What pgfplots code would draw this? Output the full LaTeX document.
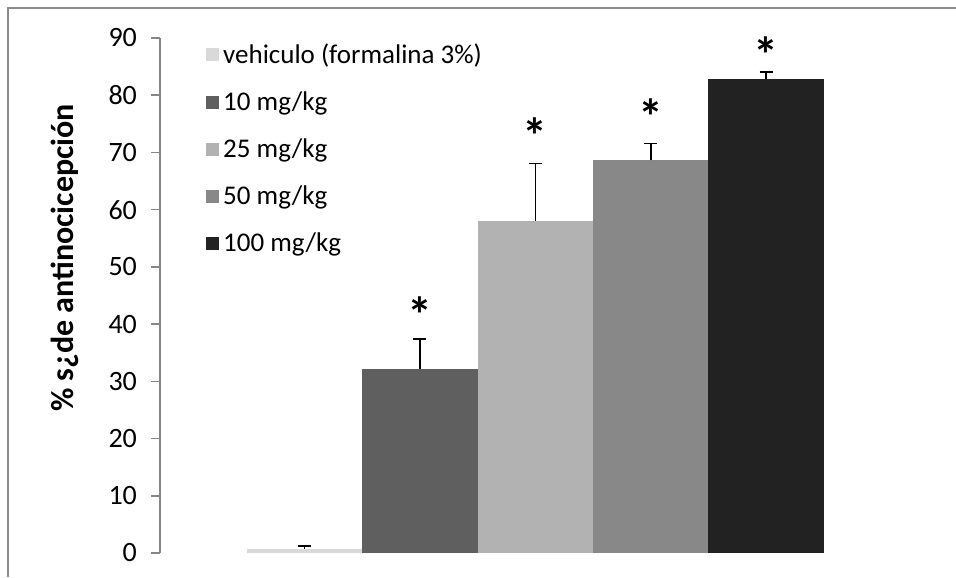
\documentclass[border=0pt]{standalone}
\usepackage{pgfplots}
\pgfplotsset{compat=1.18}
\usepackage{fontspec}
\setmainfont{Carlito}
\definecolor{c0}{HTML}{D9D9D9}
\definecolor{c1}{HTML}{5F5F5F}
\definecolor{c2}{HTML}{B2B2B2}
\definecolor{c3}{HTML}{888888}
\definecolor{c4}{HTML}{222222}
\definecolor{axgray}{HTML}{868686}
\definecolor{framegray}{HTML}{8C8C8C}
\begin{document}
\begin{tikzpicture}
\useasboundingbox (0,0) rectangle (478pt,288.5pt);
\draw[line width=1pt, color=framegray] (4pt,0) -- (4pt,284.5pt) -- (478pt,284.5pt);
\begin{axis}[
  at={(80pt,12pt)}, anchor=south west,
  scale only axis, width=375.5pt, height=257.5pt,
  xmin=-0.252, xmax=6.255, ymin=0, ymax=90,
  axis y line*=left, axis x line=none,
  ytick={0,10,...,90},
  y axis line style={color=axgray, line width=0.75pt, -},
  major tick length=4.5pt, tick align=outside,
  tick style={color=axgray, line width=0.75pt},
  /pgf/number format/assume math mode=true,
  yticklabel style={font=\fontsize{14}{16}\selectfont, text=black, xshift=-3.5pt},
  ylabel={\bfseries \% s¿de antinocicepción},
  ylabel style={font=\fontsize{16}{18}\selectfont, at={(axis description cs:-0.1265,0.573)}, anchor=center},
  mybar/.style={ybar, bar width=57.7pt, bar shift=0pt, fill=#1, draw=none,
    error bars/.cd, y dir=plus, y explicit,
    error bar style={black, line width=0.75pt},
    error mark options={rotate=90, mark size=3.25pt, line width=0.75pt, black}},
  legend image code/.code={\fill[#1,draw=none] (0pt,-3.25pt) rectangle (6.5pt,3.25pt);},
  legend style={draw=none, fill=none, font=\fontsize{13.5}{15}\selectfont,
    at={(axis description cs:0.053,1.006)}, anchor=north west, row sep=8.7pt},
  legend cell align=left,
]
\addplot[mybar=c0] coordinates {(1,0.7) +- (0,0.5)};
\addlegendentry{vehiculo (formalina 3\%)}
\addplot[mybar=c1] coordinates {(2,32.2) +- (0,5.2)};
\addlegendentry{10 mg/kg}
\addplot[mybar=c2] coordinates {(3,58.1) +- (0,10.0)};
\addlegendentry{25 mg/kg}
\addplot[mybar=c3] coordinates {(4,68.6) +- (0,3.0)};
\addlegendentry{50 mg/kg}
\addplot[mybar=c4] coordinates {(5,82.9) +- (0,1.2)};
\addlegendentry{100 mg/kg}
\addplot[only marks, mark=none, forget plot,
  nodes near coords={\bfseries *},
  nodes near coords style={anchor=center, font=\fontsize{25}{25}\selectfont, black, yshift=-4.8pt}]
  coordinates {(2,43.4) (3,74.7) (4,77.9) (5,88.7)};
\end{axis}
\end{tikzpicture}
\end{document}
